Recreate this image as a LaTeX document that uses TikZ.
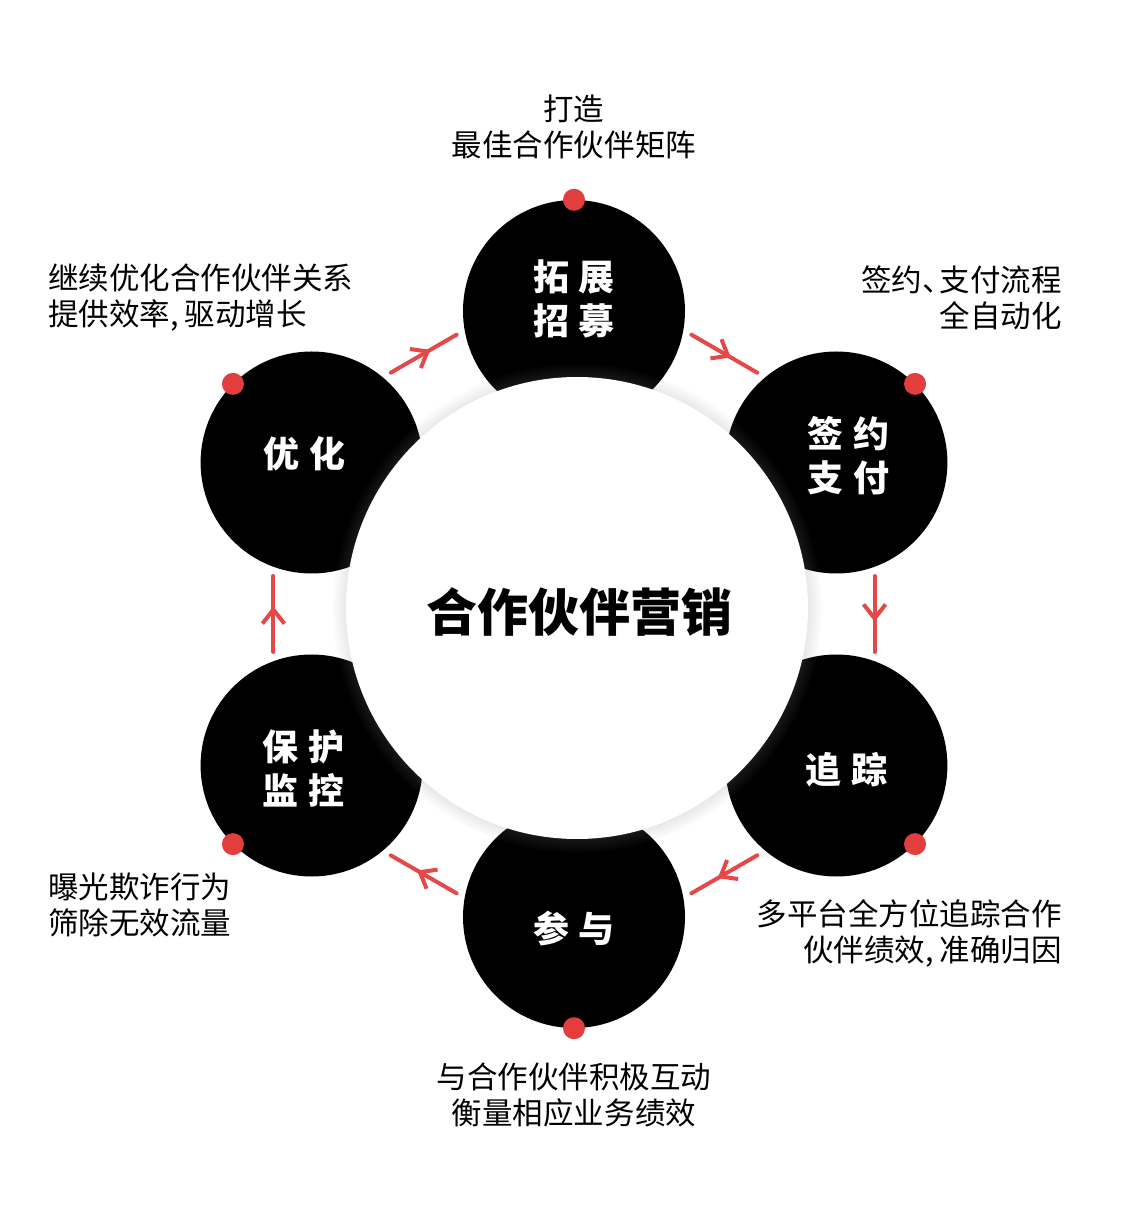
\documentclass[tikz,border=0pt]{standalone}
\usepackage{fontspec}
\setmainfont{Noto Sans CJK SC}
\usepackage{xcolor}
\usepackage{tikz}
\usetikzlibrary{positioning,arrows.meta,calc,shadows,decorations.markings}
\definecolor{dotred}{RGB}{226,62,62}
\definecolor{flowred}{RGB}{228,72,72}
\newcommand{\notefont}{\fontsize{30.5}{36}\selectfont}
\newcommand{\stagefont}{\fontsize{36}{44}\selectfont\bfseries}
\newcommand{\hubfont}{\fontsize{51}{56}\selectfont\bfseries}
\newcommand{\gap}{\hspace{10pt}}
\newcommand{\cm}{,\hspace{6pt}}
\tikzset{
  stage/.style={circle, fill=black, minimum size=222pt, inner sep=0pt},
  stagetxt/.style={text=white, align=center, inner sep=0pt, font=\stagefont},
  hub/.style={circle, fill=white, minimum size=462pt, inner sep=0pt, font=\hubfont,
    circular drop shadow={shadow xshift=0pt, shadow yshift=0pt, shadow scale=1.06, opacity=.45}},
  dot/.style={circle, fill=dotred, minimum size=22pt, inner sep=0pt},
  note/.style={inner sep=0pt, font=\notefont},
  flow/.style={draw=flowred, line width=4pt, line cap=round, postaction=decorate,
    decoration={markings, mark=at position 0.6 with {\arrow[flowred, line cap=round]{Straight Barb[length=14pt, width=22pt]}}}},
}

\begin{document}
\begin{tikzpicture}[x=1pt,y=1pt]
  \useasboundingbox (-574,-606) rectangle (563,614);
  \coordinate (c) at (0,0);
  % six stages round the hub
  \node[stage] (top) at (90:303) {};
  \node[stage] (ur) at (30:303) {};
  \node[stage] (lr) at (-30:303) {};
  \node[stage] (bot) at (-90:303) {};
  \node[stage] (ll) at (-150:303) {};
  \node[stage] (ul) at (150:303) {};
  % flow arrows, clockwise
  \foreach \a in {120,60,0,-60,-120,180}
    \draw[flow] ($(c)+(\a+7.2:303)$) -- ($(c)+(\a-7.2:303)$);
  % hub
  \node[hub] (hub) at (3,6) {};
  \node[inner sep=0pt, font=\hubfont] (title) at (6,2) {合作伙伴营销};
  % stage texts
  \node[stagetxt] (ttop) at ([shift={(0,12)}]top.center) {拓\gap 展\\招\gap 募};
  \node[stagetxt] (tur) at ([shift={(12,7)}]ur.center) {签\gap 约\\支\gap 付};
  \node[stagetxt] (tlr) at ([shift={(10,-4)}]lr.center) {追\gap 踪};
  \node[stagetxt] (tbot) at ([shift={(0,-12)}]bot.center) {参\gap 与};
  \node[stagetxt] (tll) at ([shift={(-8,-3)}]ll.center) {保\gap 护\\监\gap 控};
  \node[stagetxt] (tul) at ([shift={(-7,9)}]ul.center) {优\gap 化};
  % red dots
  \node[dot] (dtop) at (top.90) {};
  \node[dot] (dur) at (ur.45) {};
  \node[dot] (dlr) at (lr.-45) {};
  \node[dot] (dbot) at (bot.-90) {};
  \node[dot] (dll) at (ll.-135) {};
  \node[dot] (dul) at (ul.135) {};
  % notes
  \node[note, align=center] (ntop) at (0,487) {打造\\最佳合作伙伴矩阵};
  \node[note, align=right, anchor=east] (nur) at (488,316) {签约、\hspace{-13pt}支付流程\\全自动化};
  \node[note, align=right, anchor=east] (nlr) at (488,-319) {多平台全方位追踪合作\\伙伴绩效\cm 准确归因};
  \node[note, align=center] (nbot) at (0,-481) {与合作伙伴积极互动\\衡量相应业务绩效};
  \node[note, align=left, anchor=west] (nll) at (-526,-291) {曝光欺诈行为\\筛除无效流量};
  \node[note, align=left, anchor=west] (nul) at (-526,316) {继续优化合作伙伴关系\\提供效率\cm 驱动增长};
\end{tikzpicture}
\end{document}
